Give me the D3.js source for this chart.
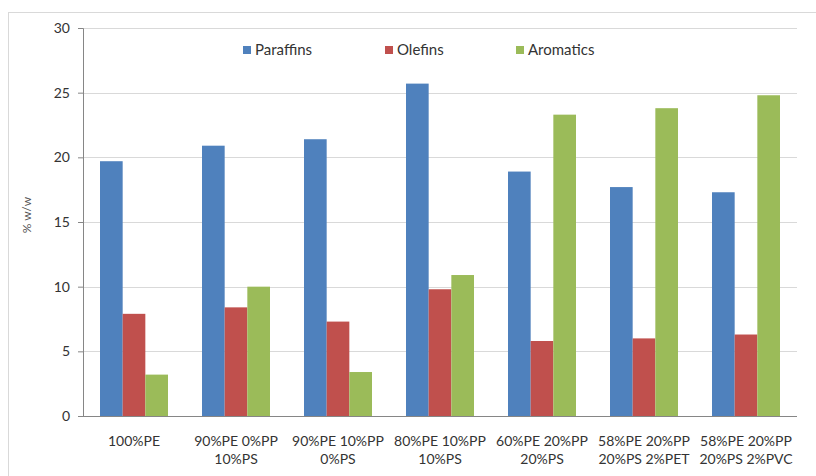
<!DOCTYPE html>
<meta charset="utf-8">
<script src="https://d3js.org/d3.v7.min.js"></script>
<style>
  body { margin: 0; background: #fff; }
  text { font-family: Lato, "Open Sans", sans-serif; }
</style>
<body>
<div id="chart"></div>
<script>

var categories = [
  ["100%PE"],
  ["90%PE 0%PP", "10%PS"],
  ["90%PE 10%PP", "0%PS"],
  ["80%PE 10%PP", "10%PS"],
  ["60%PE 20%PP", "20%PS"],
  ["58%PE 20%PP", "20%PS 2%PET"],
  ["58%PE 20%PP", "20%PS 2%PVC"]
]
var seriesNames = ["Paraffins", "Olefins", "Aromatics"]
var paraffins = [19.7, 20.9, 21.4, 25.7, 18.9, 17.7, 17.3]
var olefins   = [7.9, 8.4, 7.3, 9.8, 5.8, 6.0, 6.3]
var aromatics = [3.2, 10.0, 3.4, 10.9, 23.3, 23.8, 24.8]
var yTicks = [0, 5, 10, 15, 20, 25, 30]
var colors = ["#4F81BD", "#C0504D", "#9BBB59"]

var W = 816, H = 476
var margin = {top: 28, left: 83, right: 19, bottom: 60}
var width = W - margin.left - margin.right
var height = 416 - margin.top

var svg = d3.select("#chart").append("svg")
  .attr("width", W).attr("height", H)

// outer chart frame
svg.append("rect")
  .attr("x", 8.5).attr("y", 12.5)
  .attr("width", W).attr("height", H)
  .attr("fill", "none").attr("stroke", "#d9d9d9")

var g = svg.append("g")
  .attr("transform", "translate(" + margin.left + "," + margin.top + ")")

var idx = d3.range(categories.length)
var x0 = d3.scaleBand().domain(idx).range([0, width])
  .paddingInner(1/3).paddingOuter(1/6)
var x1 = d3.scaleBand().domain(seriesNames).range([0, x0.bandwidth()])
var y = d3.scaleLinear().domain([0, 30]).range([height, 0])

// gridlines
g.selectAll(".grid").data(yTicks.slice(1)).enter().append("line")
  .attr("x1", 0).attr("x2", width)
  .attr("y1", function(d) { return Math.round(y(d)) + 0.5 })
  .attr("y2", function(d) { return Math.round(y(d)) + 0.5 })
  .attr("stroke", "#d9d9d9")

var table = idx.map(function(i) {
  return {i: i, values: [paraffins[i], olefins[i], aromatics[i]]}
})

var groups = g.selectAll(".grp").data(table).enter().append("g")
  .attr("transform", function(d) { return "translate(" + x0(d.i) + ",0)" })

groups.selectAll("rect").data(function(d) {
  return d.values.map(function(v, k) { return {key: seriesNames[k], v: v, k: k} })
}).enter().append("rect")
  .attr("x", function(d) { return x1(d.key) })
  .attr("width", x1.bandwidth())
  .attr("y", function(d) { return y(d.v) })
  .attr("height", function(d) { return height - y(d.v) })
  .attr("fill", function(d) { return colors[d.k] })

// y axis
var yAxis = g.append("g")
  .call(d3.axisLeft(y).tickValues(yTicks).tickSize(5).tickPadding(8))
yAxis.select(".domain").attr("stroke", "#868686")
yAxis.selectAll(".tick line").attr("stroke", "#868686")
yAxis.selectAll(".tick text").attr("fill", "#333").style("font-size", "14px")
  .style("font-family", "Lato, sans-serif")

// x axis baseline
g.append("line")
  .attr("x1", 0).attr("x2", width)
  .attr("y1", height + 0.5).attr("y2", height + 0.5)
  .attr("stroke", "#868686")

// x labels
var xl = g.selectAll(".xl").data(categories).enter().append("text")
  .attr("text-anchor", "middle")
  .attr("fill", "#333")
  .style("font-size", "14px")
  .attr("transform", function(d, i) {
    return "translate(" + (x0(i) + x0.bandwidth() / 2) + "," + (height + 30) + ")"
  })
xl.selectAll("tspan").data(function(d) { return d }).enter().append("tspan")
  .attr("x", 0)
  .attr("dy", function(d, j) { return j == 0 ? 0 : 18 })
  .text(function(d) { return d })

// y title
svg.append("text")
  .attr("transform", "translate(31,215) rotate(-90)")
  .attr("text-anchor", "middle")
  .attr("fill", "#555")
  .style("font-size", "12px")
  .text("% w/w")

// legend
var legX = [243, 385, 516]
seriesNames.forEach(function(s, k) {
  svg.append("rect")
    .attr("x", legX[k]).attr("y", 46)
    .attr("width", 8).attr("height", 8)
    .attr("fill", colors[k])
  svg.append("text")
    .attr("x", legX[k] + 12).attr("y", 55)
    .attr("fill", "#333")
    .style("font-size", "15px")
    .text(s)
})

</script>
</body>
